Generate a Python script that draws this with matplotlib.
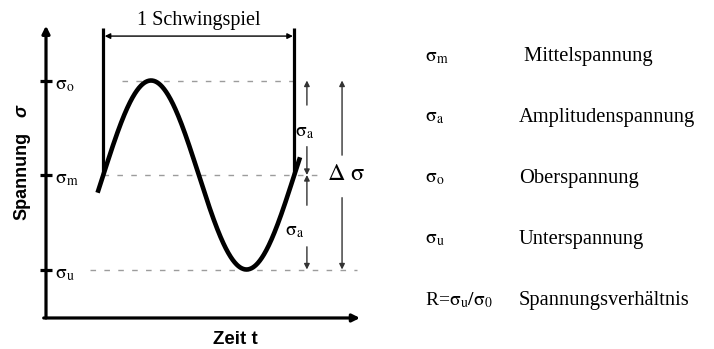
import numpy as np
import matplotlib
matplotlib.use("Agg")
import matplotlib.pyplot as plt

plt.rcParams["mathtext.fontset"] = "stix"
plt.rcParams["font.family"] = ["Liberation Serif", "DejaVu Serif"]

# Stress levels (normalised: mean stress 0, amplitude 1)
sigma_m = 0.0
sigma_a = 1.0
sigma_o = sigma_m + sigma_a
sigma_u = sigma_m - sigma_a

# One load cycle on the time axis
t_cycle_start = 0.3
period = 1.0
t_overhang = 0.03

level_values = [sigma_o, sigma_m, sigma_u]
level_labels = [r"$\mathrm{\sigma_o}$", r"$\mathrm{\sigma_m}$", r"$\mathrm{\sigma_u}$"]

legend_symbols = [r"$\mathrm{\sigma_m}$", r"$\mathrm{\sigma_a}$", r"$\mathrm{\sigma_o}$",
                  r"$\mathrm{\sigma_u}$", r"R=$\mathrm{\sigma_u/\sigma_0}$"]
legend_texts = [" Mittelspannung", "Amplitudenspannung", "Oberspannung",
                "Unterspannung", "Spannungsverhältnis"]

W, H = 714, 349
fig = plt.figure(figsize=(W / 100, H / 100), dpi=100)
fig.patch.set_facecolor("white")

# diagram area: time in cycles, stress in amplitudes
ax = fig.add_axes([0, 0, 400 / W, 1])
ax.set_xlim(-46 / 191, 354 / 191)
ax.set_ylim(-174 / 94.5, 175 / 94.5)
ax.axis("off")

t_end = t_cycle_start + period
y_axis_bottom = -1.513
y_axis_top = 1.58
x_axis_right = 1.644

# coordinate axes with arrow heads
ax.annotate("", xy=(0, y_axis_top), xytext=(0, y_axis_bottom),
            arrowprops=dict(arrowstyle="-|>", color="black", lw=2.3,
                            mutation_scale=11, shrinkA=0, shrinkB=0))
ax.annotate("", xy=(x_axis_right, y_axis_bottom), xytext=(-0.012, y_axis_bottom),
            arrowprops=dict(arrowstyle="-|>", color="black", lw=2.3,
                            mutation_scale=11, shrinkA=0, shrinkB=0))

# level ticks and labels on the stress axis
for v, lab in zip(level_values, level_labels):
    ax.plot([-0.032, 0.032], [v, v], color="black", lw=2.3, solid_capstyle="butt")
    ax.text(0.045, v - 0.05, lab, ha="left", va="center", fontsize=14)

# dashed reference lines
dash_kw = dict(color="#9c9c9c", lw=1.0, dashes=(4, 6))
ax.plot([0.40, t_end], [sigma_o, sigma_o], **dash_kw)
ax.plot([t_cycle_start, 1.46], [sigma_m, sigma_m], **dash_kw)
ax.plot([0.23, 1.63], [sigma_u, sigma_u], **dash_kw)

# stress-time curve
t = np.linspace(t_cycle_start - t_overhang, t_end + t_overhang, 500)
sigma = sigma_m + sigma_a * np.sin(2 * np.pi * (t - t_cycle_start) / period)
ax.plot(t, sigma, color="black", lw=3.3, solid_capstyle="butt")

# one load cycle dimension
dim_top = 1.556
dim_y = 1.47
for tx in (t_cycle_start, t_end):
    ax.plot([tx, tx], [sigma_m, dim_top], color="black", lw=2.3, solid_capstyle="butt")
ax.annotate("", xy=(t_end, dim_y), xytext=(t_cycle_start, dim_y),
            arrowprops=dict(arrowstyle="<|-|>", color="black", lw=1.0,
                            mutation_scale=8, shrinkA=1, shrinkB=1))
ax.text((t_cycle_start + t_end) / 2, 1.63, "1 Schwingspiel",
        ha="center", va="center", fontsize=14.5)


def split_arrow(x, lo, hi, gap_lo, gap_hi):
    kw = dict(arrowstyle="-|>", color="#333333", lw=1.0, mutation_scale=8,
              shrinkA=0, shrinkB=0)
    ax.annotate("", xy=(x, hi), xytext=(x, gap_hi), arrowprops=kw)
    ax.annotate("", xy=(x, lo), xytext=(x, gap_lo), arrowprops=kw)


# amplitude markers
x_amp = 1.366
split_arrow(x_amp, sigma_m, sigma_o, 0.30, 0.74)
split_arrow(x_amp, sigma_u, sigma_m, -0.76, -0.32)
ax.text(1.304, 0.45, r"$\mathrm{\sigma_a}$", ha="left", va="center", fontsize=14)
ax.text(1.251, -0.60, r"$\mathrm{\sigma_a}$", ha="left", va="center", fontsize=14)

# stress range marker
x_range = 1.55
split_arrow(x_range, sigma_u, sigma_o, -0.24, 0.21)
ax.text(1.568, sigma_m, r"$\Delta\ \mathrm{\sigma}$", ha="center", va="center", fontsize=17.5)

# axis titles
fig.text(22 / W, 1 - 176 / H, "Spannung", rotation=90, ha="center", va="center",
         fontsize=13, fontweight="bold", family="Liberation Sans")
fig.text(22 / W, 1 - 111 / H, "σ", rotation=90, ha="center", va="center",
         fontsize=13, fontweight="bold", fontstyle="italic", family="Liberation Sans")
fig.text(235 / W, 1 - 340 / H, "Zeit t", ha="center", va="center",
         fontsize=13.5, fontweight="bold", family="Liberation Sans")

# symbol legend
row_y0, row_dy = 57, 60.8
for i, (sym, txt) in enumerate(zip(legend_symbols, legend_texts)):
    y = 1 - (row_y0 + i * row_dy) / H
    fig.text(425 / W, y, sym, ha="left", va="center", fontsize=14)
    fig.text(519 / W, y, txt, ha="left", va="center", fontsize=14.8)

fig.savefig("out.png", dpi=100, facecolor="white")
